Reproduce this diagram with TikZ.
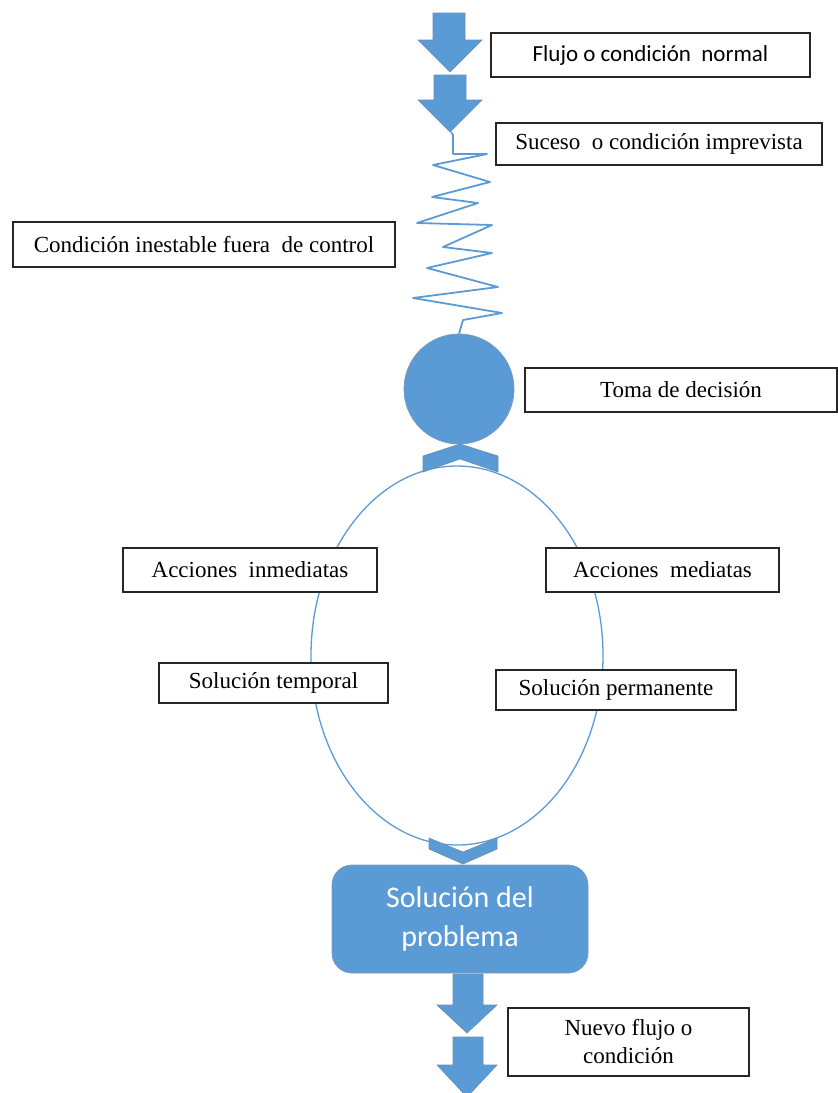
\documentclass[tikz,border=0pt]{standalone}
\usepackage{fontspec}
\setmainfont{Liberation Serif}
\newfontfamily\calfont{Carlito}
\usetikzlibrary{shapes.geometric}
\definecolor{obl}{HTML}{5B9BD5}
\definecolor{obd}{HTML}{41719C}
\begin{document}
\begin{tikzpicture}[x=1pt,y=-1pt,
  lbl/.style={draw=black!85, line width=1.6pt, fill=white, inner sep=0pt, outer sep=0pt,
    font=\fontsize{23}{28}\selectfont, align=center},
  blockfill/.style={fill=obl, draw=obd!80, line width=0.6pt},
  spring/.style={draw=obl, line width=1.8pt, line join=round},
  loopline/.style={draw=obl, line width=1.3pt}]
\useasboundingbox (0,0) rectangle (838,1093);
\clip (0,0) rectangle (838,1093);

% big loop
\node[ellipse, loopline, minimum width=292pt, minimum height=379pt, inner sep=0pt] (loop) at (457,655.5) {};

% top block arrows
\path[blockfill] (433,13) -- (465,13) -- (465,40) -- (482,40) -- (450,72) -- (418,40) -- (433,40) -- cycle;
\path[blockfill] (434,75) -- (466,75) -- (466,100) -- (482,100) -- (450,132) -- (418,100) -- (434,100) -- cycle;
\coordinate (a2tip) at (451,132);

% decision circle
\node[circle, fill=obl, draw=obd!70, line width=0.8pt, minimum size=110pt, inner sep=0pt] (dec) at (459,389) {};

% spring
\draw[spring] (a2tip) -- (453,135) -- (453,154) -- (487,154) -- (433,165) -- (490,182) -- (432,197) -- (478,203)
  -- (417,223) -- (492,225) -- (443,247) -- (492,253) -- (427,268) -- (498,287) -- (413,298)
  -- (502,313) -- (463,320) -- (dec.north);

% chevrons
\path[blockfill] (423,456) -- (460,444) -- (498,456) -- (498,472) -- (460,459) -- (423,472) -- cycle;
\path[blockfill] (429,838) -- (463,852) -- (497,838) -- (497,849) -- (463,864) -- (429,849) -- cycle;

% solution box
\node[rounded corners=20pt, fill=obl, draw=obd!70, line width=0.8pt, minimum width=256pt, minimum height=108pt,
  inner sep=0pt, align=center, text=white, font=\calfont\fontsize{30}{39}\selectfont] (sol) at (460,919)
  {Solución del\\problema};

% bottom block arrows
\path[blockfill] (453,974) -- (483,974) -- (483,1005) -- (497,1005) -- (467,1033) -- (437,1005) -- (453,1005) -- cycle;
\path[blockfill] (453,1037) -- (483,1037) -- (483,1065) -- (497,1065) -- (467,1097) -- (437,1065) -- (453,1065) -- cycle;

% labels
\node[lbl, minimum width=319pt, minimum height=44pt, font=\calfont\fontsize{23}{28}\selectfont] (flujo) at (650.5,55) {Flujo o condición\ \ normal};
\node[lbl, minimum width=326pt, minimum height=42pt] (suceso) at (659,144) {Suceso\ \ o condición imprevista};
\node[lbl, minimum width=382pt, minimum height=45pt] (inest) at (204,244.5) {Condición inestable fuera\ \ de control};
\node[lbl, minimum width=312pt, minimum height=44pt] (toma) at (681,390) {Toma de decisión};
\node[lbl, minimum width=254pt, minimum height=44pt] (inmed) at (250,570) {Acciones\ \ inmediatas};
\node[lbl, minimum width=233pt, minimum height=44pt] (med) at (662.5,570) {Acciones\ \ mediatas};
\node[lbl, minimum width=229pt, minimum height=40pt] (temp) at (273.5,683) {Solución temporal};
\node[lbl, minimum width=240pt, minimum height=40pt] (perm) at (616,690) {Solución permanente};
\node[lbl, minimum width=241pt, minimum height=68pt] (nuevo) at (628.5,1042) {Nuevo flujo o\\condición};
\end{tikzpicture}
\end{document}
